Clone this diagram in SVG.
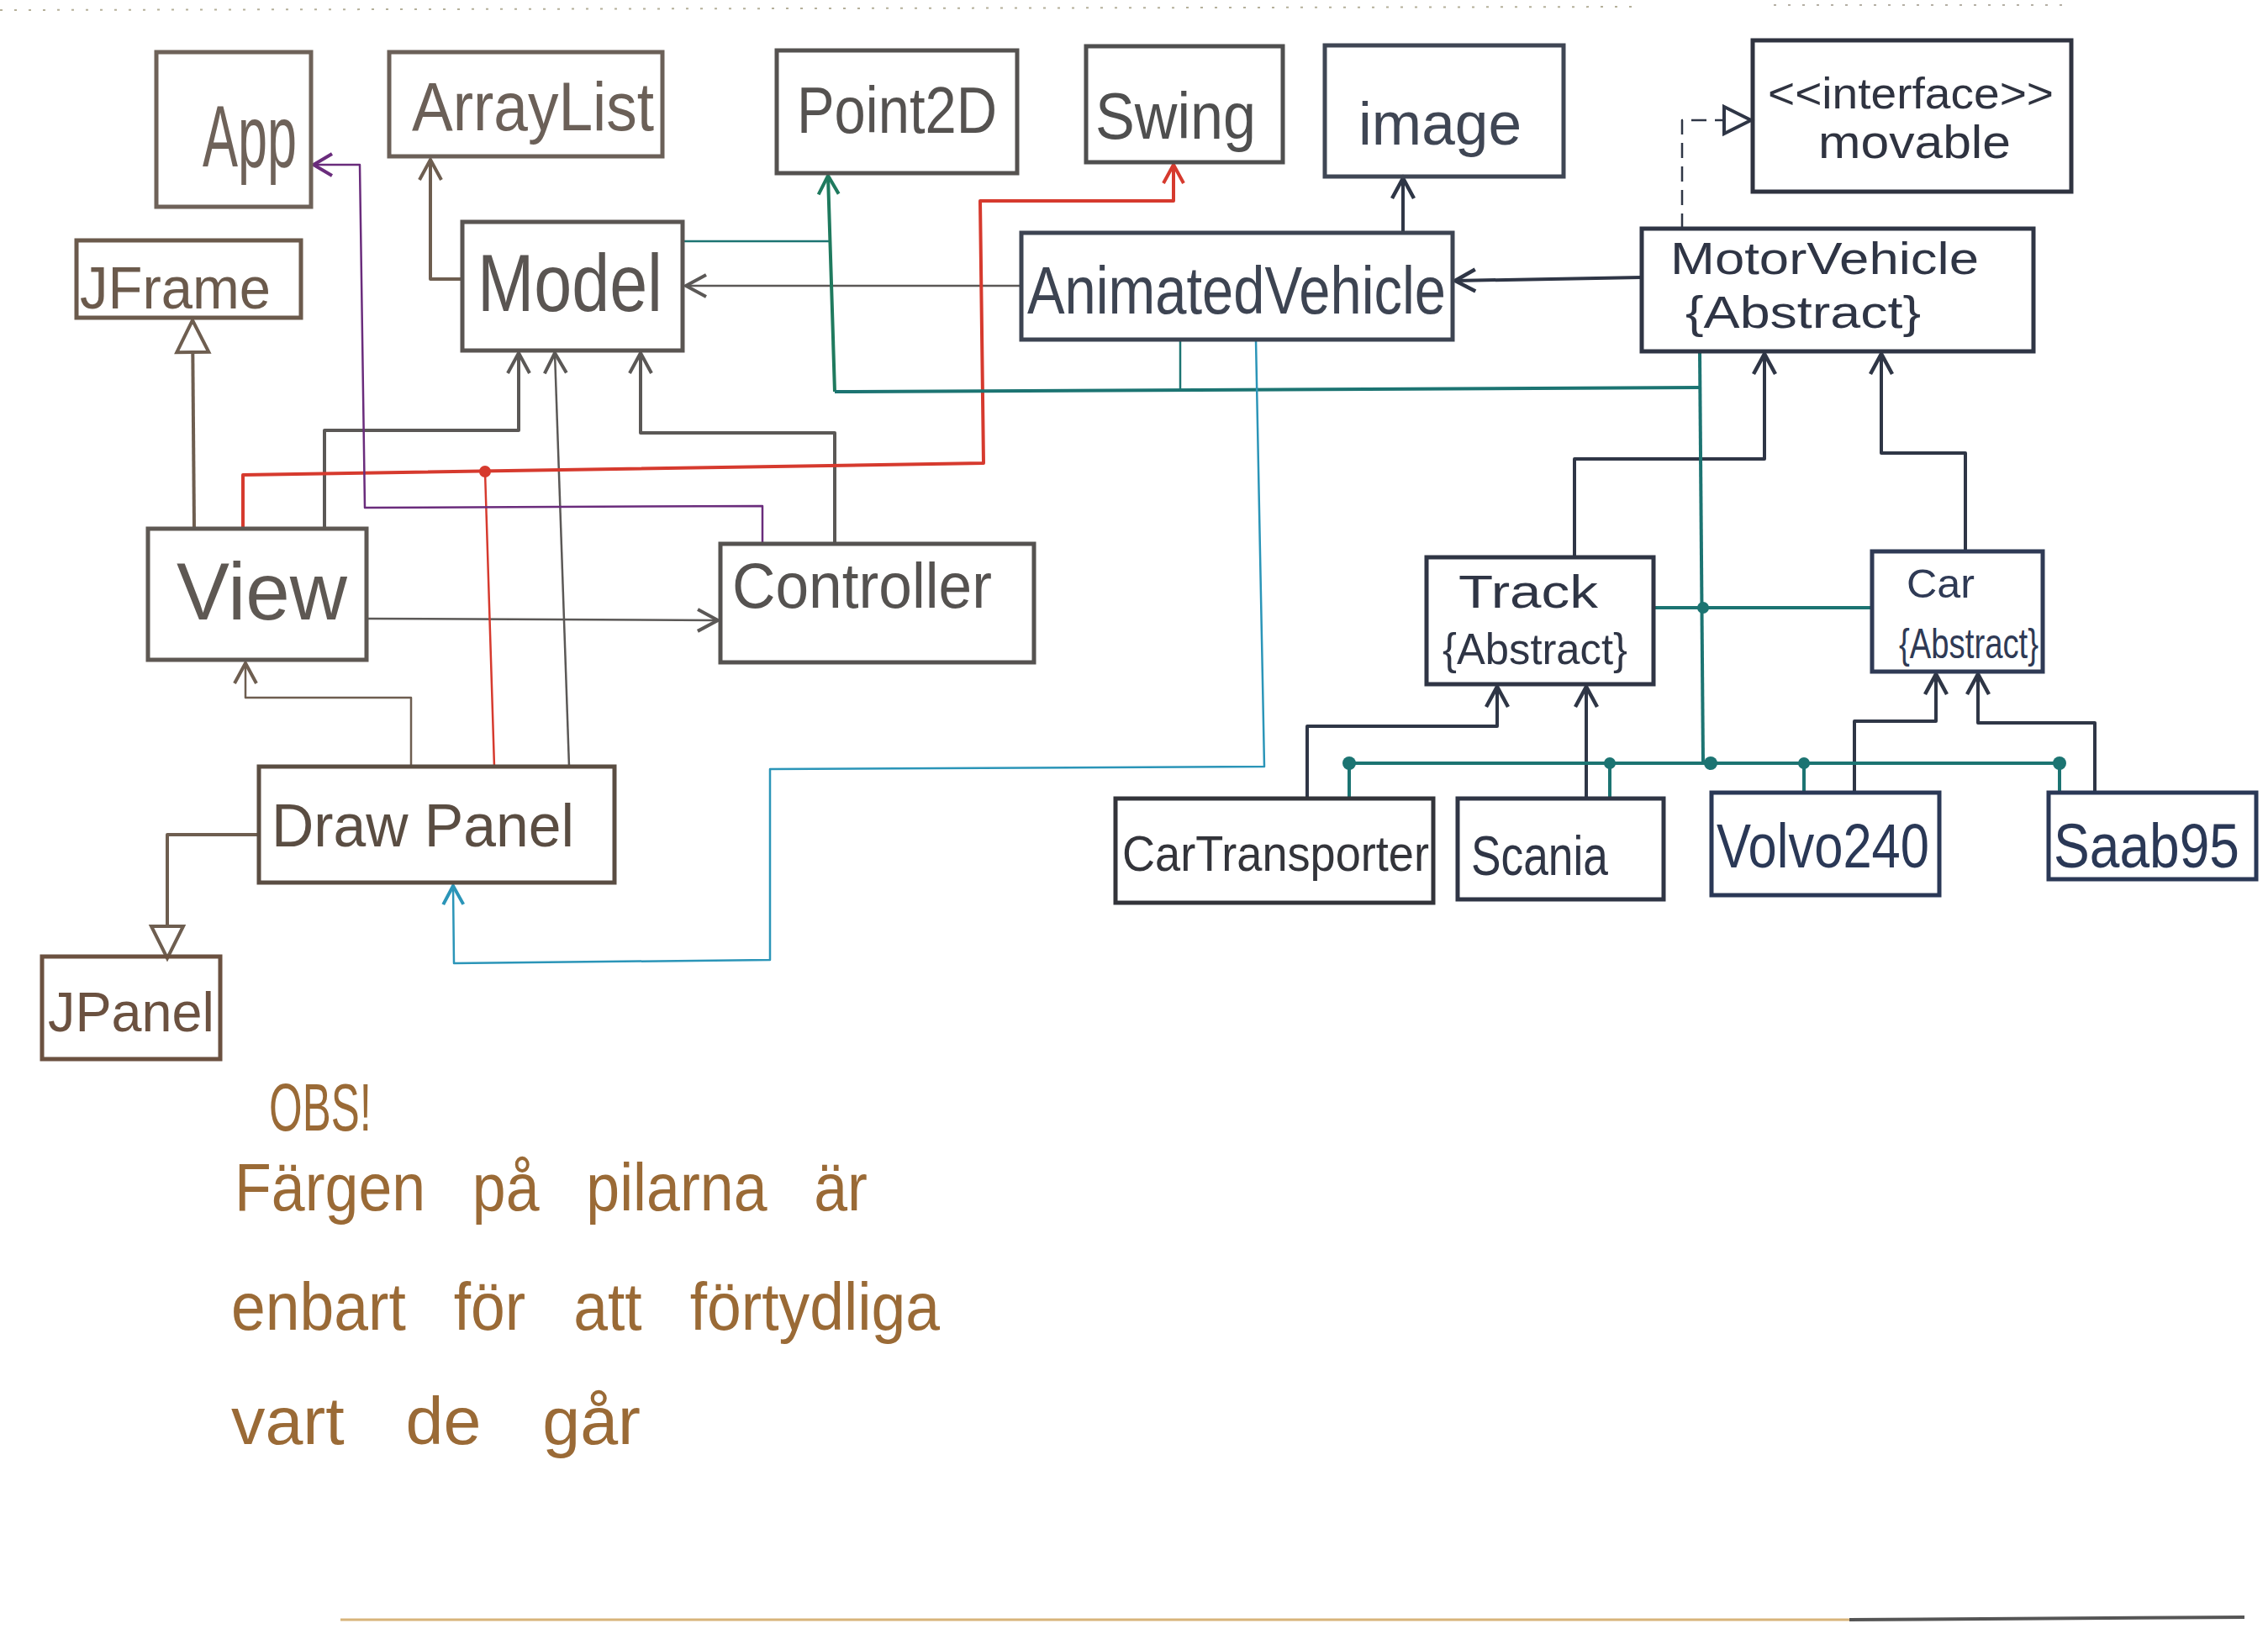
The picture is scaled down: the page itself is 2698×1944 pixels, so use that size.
<svg xmlns="http://www.w3.org/2000/svg" width="2698" height="1944" viewBox="0 0 2698 1944">
<style>
  .box{fill:none;stroke-width:5;stroke-linejoin:miter}
  .t{font-family:"Liberation Sans","DejaVu Sans",sans-serif;}
  .c{fill:none;stroke-width:4;stroke-linejoin:round}
  .thin{stroke-width:2.5}
  .gray{stroke:#5b5856}
  .brown{stroke:#6e5e50}
  .navy{stroke:#2f3646}
  .red{stroke:#d63a2e}
  .purple{stroke:#6a2c7c}
  .green{stroke:#1f7a5e}
  .teal{stroke:#1c7472}
  .blue{stroke:#2b95b8}
  .note{font-family:"Liberation Sans","DejaVu Sans",sans-serif;fill:#9a6a36;font-size:80px}
</style>
<defs>
  <marker id="aGray" markerUnits="userSpaceOnUse" markerWidth="60" markerHeight="60" viewBox="-30 -30 60 60" refX="0" refY="0" orient="auto" overflow="visible"><path d="M-24 -13 L0 0 L-24 13" fill="none" stroke="#5b5856" stroke-width="4"/></marker>
  <marker id="aBrown" markerUnits="userSpaceOnUse" markerWidth="60" markerHeight="60" viewBox="-30 -30 60 60" refX="0" refY="0" orient="auto" overflow="visible"><path d="M-24 -13 L0 0 L-24 13" fill="none" stroke="#6e5e50" stroke-width="4"/></marker>
  <marker id="aNavy" markerUnits="userSpaceOnUse" markerWidth="60" markerHeight="60" viewBox="-30 -30 60 60" refX="0" refY="0" orient="auto" overflow="visible"><path d="M-24 -13 L0 0 L-24 13" fill="none" stroke="#2f3646" stroke-width="4.5"/></marker>
  <marker id="aRed" markerUnits="userSpaceOnUse" markerWidth="60" markerHeight="60" viewBox="-30 -30 60 60" refX="0" refY="0" orient="auto" overflow="visible"><path d="M-22 -12 L0 0 L-22 12" fill="none" stroke="#d63a2e" stroke-width="4"/></marker>
  <marker id="aPurple" markerUnits="userSpaceOnUse" markerWidth="60" markerHeight="60" viewBox="-30 -30 60 60" refX="0" refY="0" orient="auto" overflow="visible"><path d="M-22 -13 L0 0 L-22 13" fill="none" stroke="#6a2c7c" stroke-width="4"/></marker>
  <marker id="aGreen" markerUnits="userSpaceOnUse" markerWidth="60" markerHeight="60" viewBox="-30 -30 60 60" refX="0" refY="0" orient="auto" overflow="visible"><path d="M-22 -12 L0 0 L-22 12" fill="none" stroke="#1f7a5e" stroke-width="4"/></marker>
  <marker id="aBlue" markerUnits="userSpaceOnUse" markerWidth="60" markerHeight="60" viewBox="-30 -30 60 60" refX="0" refY="0" orient="auto" overflow="visible"><path d="M-22 -12 L0 0 L-22 12" fill="none" stroke="#2b95b8" stroke-width="4"/></marker>
  <marker id="triBrown" markerUnits="userSpaceOnUse" markerWidth="60" markerHeight="60" viewBox="-30 -30 60 60" refX="0" refY="0" orient="auto" overflow="visible"><path d="M-38 -19 L0 0 L-38 19 Z" fill="#fff" stroke="#6e5e50" stroke-width="4"/></marker>
  <marker id="triNavy" markerUnits="userSpaceOnUse" markerWidth="60" markerHeight="60" viewBox="-30 -30 60 60" refX="0" refY="0" orient="auto" overflow="visible"><path d="M-32 -16 L0 0 L-32 16 Z" fill="#fff" stroke="#2f3646" stroke-width="4"/></marker>
</defs>
<rect x="0" y="0" width="2698" height="1944" fill="#ffffff"/>
<line x1="0" y1="12" x2="1950" y2="8" stroke="#b5b09a" stroke-width="2" stroke-dasharray="3 14"/>
<line x1="2110" y1="6" x2="2460" y2="6" stroke="#b5b0a5" stroke-width="2" stroke-dasharray="3 14"/>
<line x1="405" y1="1927" x2="2200" y2="1927" stroke="#d8b47a" stroke-width="3"/>
<line x1="2200" y1="1927" x2="2670" y2="1924" stroke="#555" stroke-width="4"/>

<g id="connectors">
  <!-- Model -> ArrayList -->
  <path class="c brown" d="M550 332 L512 332 L512 190" marker-end="url(#aBrown)"/>
  <!-- AnimatedVehicle -> Model -->
  <path class="c gray thin" d="M1215 340 L816 340" marker-end="url(#aGray)"/>
  <!-- View -> Model -->
  <path class="c gray" d="M386 629 L386 512 L617 512 L617 420" marker-end="url(#aGray)"/>
  <!-- Controller -> Model -->
  <path class="c gray" d="M993 647 L993 515 L762 515 L762 420" marker-end="url(#aGray)"/>
  <!-- DrawPanel -> Model -->
  <path class="c gray thin" d="M677 912 L660 420" marker-end="url(#aGray)"/>
  <!-- DrawPanel -> View -->
  <path class="c brown thin" d="M489 912 L489 830 L292 830 L292 789" marker-end="url(#aBrown)"/>
  <!-- View -> Controller -->
  <path class="c gray thin" d="M437 736 L854 738" marker-end="url(#aGray)"/>
  <!-- View -> JFrame -->
  <path class="c brown" d="M231 629 L229 381" marker-end="url(#triBrown)"/>
  <!-- DrawPanel -> JPanel -->
  <path class="c brown" d="M306 993 L199 993 L199 1140" marker-end="url(#triBrown)"/>
  <!-- AnimatedVehicle -> image -->
  <path class="c navy" d="M1669 277 L1669 212" marker-end="url(#aNavy)"/>
  <!-- MotorVehicle -> AnimatedVehicle -->
  <path class="c navy" d="M1953 330 L1731 334" marker-end="url(#aNavy)"/>
  <!-- MotorVehicle -> movable (realization) -->
  <path class="c navy thin" d="M2001 272 L2001 143 L2083 143" stroke-dasharray="18 10" marker-end="url(#triNavy)"/>
  <!-- Track -> MotorVehicle -->
  <path class="c navy" d="M1873 663 L1873 546 L2099 546 L2099 421" marker-end="url(#aNavy)"/>
  <!-- Car -> MotorVehicle -->
  <path class="c navy" d="M2338 656 L2338 539 L2238 539 L2238 421" marker-end="url(#aNavy)"/>
  <!-- CarTransporter -> Track -->
  <path class="c navy" d="M1555 950 L1555 864 L1781 864 L1781 817" marker-end="url(#aNavy)"/>
  <!-- Scania -> Track -->
  <path class="c navy" d="M1887 950 L1887 817" marker-end="url(#aNavy)"/>
  <!-- Volvo240 -> Car -->
  <path class="c navy" d="M2206 943 L2206 858 L2303 858 L2303 802" marker-end="url(#aNavy)"/>
  <!-- Saab95 -> Car -->
  <path class="c navy" d="M2492 943 L2492 860 L2353 860 L2353 802" marker-end="url(#aNavy)"/>

  <!-- red: View / DrawPanel -> Swing -->
  <path class="c red" d="M289 629 L289 565 L1170 551 L1166 239 L1396 239 L1396 196" marker-end="url(#aRed)"/>
  <path class="c red thin" d="M577 561 L588 912"/>
  <circle cx="577" cy="561" r="7" fill="#d63a2e"/>

  <!-- purple: Controller -> App -->
  <path class="c purple thin" d="M907 647 L907 602 L434 604 L428 196 L373 196" marker-end="url(#aPurple)"/>

  <!-- green/teal network -> Point2D -->
  <path class="c teal thin" d="M812 287 L986 287"/>
  <path class="c green" d="M993 466 L985 209" marker-end="url(#aGreen)"/>
  <path class="c teal" d="M993 466 L2022 461"/>
  <path class="c teal thin" d="M1404 404 L1404 466"/>
  <path class="c teal" d="M2022 418 L2026 908"/>
  <path class="c teal" d="M1967 723 L2227 723"/>
  <path class="c teal" d="M1605 950 L1605 908 L2450 908 L2450 943"/>
  <path class="c teal" d="M1915 908 L1915 950"/>
  <path class="c teal" d="M2146 908 L2146 943"/>
  <circle cx="1605" cy="908" r="8" fill="#1c7472"/>
  <circle cx="1915" cy="908" r="7" fill="#1c7472"/>
  <circle cx="2035" cy="908" r="8" fill="#1c7472"/>
  <circle cx="2146" cy="908" r="7" fill="#1c7472"/>
  <circle cx="2450" cy="908" r="8" fill="#1c7472"/>
  <circle cx="2026" cy="723" r="7" fill="#1c7472"/>

  <!-- blue: AnimatedVehicle -> DrawPanel -->
  <path class="c blue thin" d="M1494 404 L1504 912 L916 915 L916 1142 L540 1146 L539 1054" marker-end="url(#aBlue)"/>
</g>

<g id="App"><rect class="box" x="186" y="62" width="184" height="184" stroke="#6e6259"/><text class="t" x="241" y="198" font-size="104" fill="#6e6259" textLength="112" lengthAdjust="spacingAndGlyphs">App</text></g>
<g id="ArrayList"><rect class="box" x="463" y="62" width="325" height="124" stroke="#6b6058"/><text class="t" x="490" y="155" font-size="82" fill="#6b6058" textLength="288" lengthAdjust="spacingAndGlyphs">ArrayList</text></g>
<g id="Point2D"><rect class="box" x="924" y="60" width="286" height="146" stroke="#555250"/><text class="t" x="948" y="158" font-size="78" fill="#555250" textLength="238" lengthAdjust="spacingAndGlyphs">Point2D</text></g>
<g id="Swing"><rect class="box" x="1292" y="55" width="234" height="138" stroke="#4f4f4f"/><text class="t" x="1303" y="165" font-size="78" fill="#4f4f4f" textLength="191" lengthAdjust="spacingAndGlyphs">Swing</text></g>
<g id="image"><rect class="box" x="1576" y="54" width="284" height="156" stroke="#3f4654"/><text class="t" x="1616" y="172" font-size="72" fill="#3f4654" textLength="194" lengthAdjust="spacingAndGlyphs">image</text></g>
<g id="movable"><rect class="box" x="2085" y="48" width="379" height="180" stroke="#2f3340"/><text class="t" x="2103" y="129" font-size="52" fill="#2f3340" textLength="340" lengthAdjust="spacingAndGlyphs">&lt;&lt;interface&gt;&gt;</text><text class="t" x="2163" y="188" font-size="56" fill="#2f3340" textLength="229" lengthAdjust="spacingAndGlyphs">movable</text></g>
<g id="JFrame"><rect class="box" x="91" y="286" width="267" height="92" stroke="#6b5a4c"/><text class="t" x="95" y="367" font-size="70" fill="#6b5a4c" textLength="227" lengthAdjust="spacingAndGlyphs">JFrame</text></g>
<g id="Model"><rect class="box" x="550" y="264" width="262" height="153" stroke="#5a5552"/><text class="t" x="568" y="370" font-size="96" fill="#5a5552" textLength="220" lengthAdjust="spacingAndGlyphs">Model</text></g>
<g id="AnimatedVehicle"><rect class="box" x="1215" y="277" width="513" height="127" stroke="#3d4452"/><text class="t" x="1222" y="373" font-size="80" fill="#3d4452" textLength="498" lengthAdjust="spacingAndGlyphs">AnimatedVehicle</text></g>
<g id="MotorVehicle"><rect class="box" x="1953" y="272" width="466" height="146" stroke="#2f3545"/><text class="t" x="1987" y="326" font-size="54" fill="#2f3545" textLength="367" lengthAdjust="spacingAndGlyphs">MotorVehicle</text><text class="t" x="2005" y="390" font-size="54" fill="#2f3545" textLength="280" lengthAdjust="spacingAndGlyphs">{Abstract}</text></g>
<g id="View"><rect class="box" x="176" y="629" width="260" height="156" stroke="#5e5853"/><text class="t" x="210" y="737" font-size="96" fill="#5e5853" textLength="203" lengthAdjust="spacingAndGlyphs">View</text></g>
<g id="Controller"><rect class="box" x="857" y="647" width="373" height="141" stroke="#555250"/><text class="t" x="871" y="723" font-size="76" fill="#555250" textLength="309" lengthAdjust="spacingAndGlyphs">Controller</text></g>
<g id="Track"><rect class="box" x="1697" y="663" width="270" height="151" stroke="#2f3545"/><text class="t" x="1735" y="723" font-size="56" fill="#2f3545" textLength="166" lengthAdjust="spacingAndGlyphs">Track</text><text class="t" x="1716" y="790" font-size="52" fill="#2f3545" textLength="220" lengthAdjust="spacingAndGlyphs">{Abstract}</text></g>
<g id="Car"><rect class="box" x="2227" y="656" width="203" height="143" stroke="#2f3a55"/><text class="t" x="2268" y="711" font-size="48" fill="#2f3a55" textLength="81" lengthAdjust="spacingAndGlyphs">Car</text><text class="t" x="2259" y="783" font-size="50" fill="#2f3a55" textLength="166" lengthAdjust="spacingAndGlyphs">{Abstract}</text></g>
<g id="DrawPanel"><rect class="box" x="308" y="912" width="423" height="138" stroke="#5a4d42"/><text class="t" x="323" y="1007" font-size="72" fill="#5a4d42" textLength="360" lengthAdjust="spacingAndGlyphs">Draw Panel</text></g>
<g id="CarTransporter"><rect class="box" x="1327" y="950" width="378" height="124" stroke="#33343a"/><text class="t" x="1335" y="1036" font-size="60" fill="#33343a" textLength="365" lengthAdjust="spacingAndGlyphs">CarTransporter</text></g>
<g id="Scania"><rect class="box" x="1734" y="950" width="245" height="120" stroke="#2f3545"/><text class="t" x="1750" y="1041" font-size="66" fill="#2f3545" textLength="163" lengthAdjust="spacingAndGlyphs">Scania</text></g>
<g id="Volvo240"><rect class="box" x="2036" y="943" width="271" height="122" stroke="#2a3856"/><text class="t" x="2042" y="1032" font-size="74" fill="#2a3856" textLength="253" lengthAdjust="spacingAndGlyphs">Volvo240</text></g>
<g id="Saab95"><rect class="box" x="2437" y="943" width="247" height="103" stroke="#2a3856"/><text class="t" x="2443" y="1032" font-size="74" fill="#2a3856" textLength="221" lengthAdjust="spacingAndGlyphs">Saab95</text></g>
<g id="JPanel"><rect class="box" x="50" y="1138" width="212" height="122" stroke="#6b5140"/><text class="t" x="57" y="1227" font-size="66" fill="#6b5140" textLength="198" lengthAdjust="spacingAndGlyphs">JPanel</text></g>

<g id="note">
  <text class="note" x="320" y="1345" font-size="92" textLength="122" lengthAdjust="spacingAndGlyphs">OBS!</text>
  <text class="note" x="279" y="1440" textLength="753" lengthAdjust="spacingAndGlyphs" word-spacing="40">Färgen på pilarna är</text>
  <text class="note" x="275" y="1582" textLength="843" lengthAdjust="spacingAndGlyphs" word-spacing="40">enbart för att förtydliga</text>
  <text class="note" x="275" y="1718" textLength="487" lengthAdjust="spacingAndGlyphs" word-spacing="50">vart de går</text>
</g>
</svg>
